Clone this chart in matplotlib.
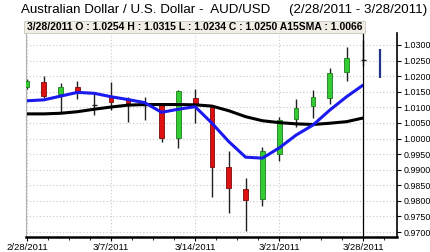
"""AUD/USD daily candlesticks, 2/28/2011 - 3/28/2011, with a short SMA (blue) and the 15-day SMA (black)."""

from __future__ import annotations

import matplotlib

matplotlib.use("Agg")
import matplotlib.pyplot as plt
from matplotlib.patches import Rectangle
from matplotlib.ticker import FixedLocator, MultipleLocator

plt.rcParams["font.family"] = ["Liberation Sans", "DejaVu Sans"]

# trading days (weekends skipped), one candle per index
date_labels = ["2/28/2011", "3/7/2011", "3/14/2011", "3/21/2011", "3/28/2011"]
date_ticks = [0, 5, 10, 15, 20]

opens = [1.0166, 1.0182, 1.0142, 1.0166, 1.0110, 1.0132, 1.0126, 1.0109, 1.0113, 1.0003, 1.0129,
         1.0102, 0.9908, 0.9838, 0.9805, 0.9950, 1.0063, 1.0104, 1.0129, 1.0212, 1.0254]
highs = [1.0190, 1.0200, 1.0179, 1.0186, 1.0145, 1.0182, 1.0132, 1.0132, 1.0115, 1.0156, 1.0158,
         1.0104, 0.9961, 0.9872, 0.9974, 1.0068, 1.0126, 1.0156, 1.0225, 1.0293, 1.0315]
lows = [1.0160, 1.0130, 1.0084, 1.0126, 1.0075, 1.0091, 1.0052, 1.0059, 0.9990, 0.9970, 1.0049,
        0.9813, 0.9762, 0.9704, 0.9783, 0.9929, 1.0038, 1.0065, 1.0111, 1.0186, 1.0234]
closes = [1.0186, 1.0136, 1.0166, 1.0152, 1.0108, 1.0116, 1.0113, 1.0107, 1.0001, 1.0152, 1.0108,
          0.9908, 0.9840, 0.9803, 0.9960, 1.0059, 1.0098, 1.0132, 1.0211, 1.0257, 1.0250]

sma_short = [1.0121, 1.0124, 1.0136, 1.0148, 1.0145, 1.0134, 1.0125, 1.0115, 1.0084, 1.0094, 1.0102,
             1.0049, 0.9990, 0.9940, 0.9937, 0.9970, 1.0011, 1.0043, 1.0091, 1.0134, 1.0172]
sma15 = [1.0079, 1.0079, 1.0081, 1.0086, 1.0094, 1.0101, 1.0107, 1.0109, 1.0109, 1.0109, 1.0108,
         1.0104, 1.0089, 1.0070, 1.0057, 1.0051, 1.0047, 1.0045, 1.0049, 1.0054, 1.0066]

# projected range drawn one day past the last candle
proj_x = 21
proj_range = [1.0193, 1.0286]

y_ticks = [0.9700, 0.9750, 0.9800, 0.9850, 0.9900, 0.9950, 1.0000,
           1.0050, 1.0100, 1.0150, 1.0200, 1.0250, 1.0300]


def main() -> None:
    W, H = 431, 252
    fig = plt.figure(figsize=(W / 100, H / 100), dpi=100)
    ax = fig.add_axes([26.5 / W, 1 - 237 / H, (397 - 26.5) / W, (237 - 33) / H])

    ax.set_xlim(-0.03, 22.0)
    ax.set_ylim(0.9684, 1.03385)

    # grid: dotted, light
    ax.set_yticks(y_ticks)
    ax.set_yticklabels([f"{v:.4f}" for v in y_ticks])
    ax.xaxis.set_major_locator(FixedLocator(date_ticks))
    ax.set_xticklabels(date_labels)
    ax.xaxis.set_minor_locator(MultipleLocator(1.25))
    ax.grid(True, which="major", linestyle=(0, (1, 2)), color="#c8c8c8", linewidth=0.8)
    ax.set_axisbelow(True)

    body_w = 0.28
    for i, (o, h, l, c) in enumerate(zip(opens, highs, lows, closes)):
        ax.vlines(i, l, h, color="#202020", linewidth=1.0, zorder=2)
        if abs(c - o) < 0.0005:
            ax.hlines((o + c) / 2, i - body_w / 2, i + body_w / 2, color="#202020", linewidth=1.0, zorder=3)
            continue
        fc, ec = ("#33cc33", "#1e7a1e") if c > o else ("#dd1111", "#7a0a0a")
        ax.add_patch(Rectangle((i - body_w / 2, min(o, c)), body_w, abs(c - o),
                               facecolor=fc, edgecolor=ec, linewidth=0.6, zorder=3))

    x = list(range(len(sma15)))
    ax.plot(x, sma15, color="black", linewidth=2.2, zorder=4, solid_capstyle="butt")
    ax.plot(x, sma_short, color="#1a1aee", linewidth=2.2, zorder=5, solid_capstyle="butt")

    ax.axvline(20, color="black", linewidth=0.9, zorder=6)
    ax.vlines(proj_x, proj_range[0], proj_range[1], color="#22338a", linewidth=1.6, zorder=6)

    # axes look
    ax.yaxis.tick_right()
    ax.tick_params(axis="y", which="major", direction="out", length=3, width=0.8, labelsize=6.4, pad=1.5)
    ax.tick_params(axis="x", which="major", direction="out", length=3, width=0.8, labelsize=6.8, pad=1.5)
    ax.tick_params(axis="x", which="minor", direction="out", length=2, width=0.6)
    ax.spines["top"].set_visible(False)
    ax.spines["left"].set_color("#b0b0b0")
    ax.spines["left"].set_linewidth(0.8)
    ax.spines["right"].set_color("black")
    ax.spines["right"].set_linewidth(1.2)
    ax.spines["bottom"].set_color("black")
    ax.spines["bottom"].set_linewidth(1.8)

    # title and OHLC header bar
    fig.text(21 / W, 1 - 9.5 / H,
             "Australian Dollar / U.S. Dollar -  AUD/USD     (2/28/2011 - 3/28/2011)",
             ha="left", va="center", fontsize=9.6)
    fig.patches.append(Rectangle((24 / W, 1 - 32.5 / H), (365 - 24) / W, 11.5 / H,
                                 transform=fig.transFigure, facecolor="#efede4",
                                 edgecolor="#c8c6bc", linewidth=0.6))
    fig.text(27 / W, 1 - 26.5 / H,
             "3/28/2011 O : 1.0254 H : 1.0315 L : 1.0234 C : 1.0250 A15SMA : 1.0066",
             ha="left", va="center", fontsize=7.5, fontweight="bold")

    fig.savefig("out.png", dpi=100)
    plt.close(fig)


if __name__ == "__main__":
    main()
